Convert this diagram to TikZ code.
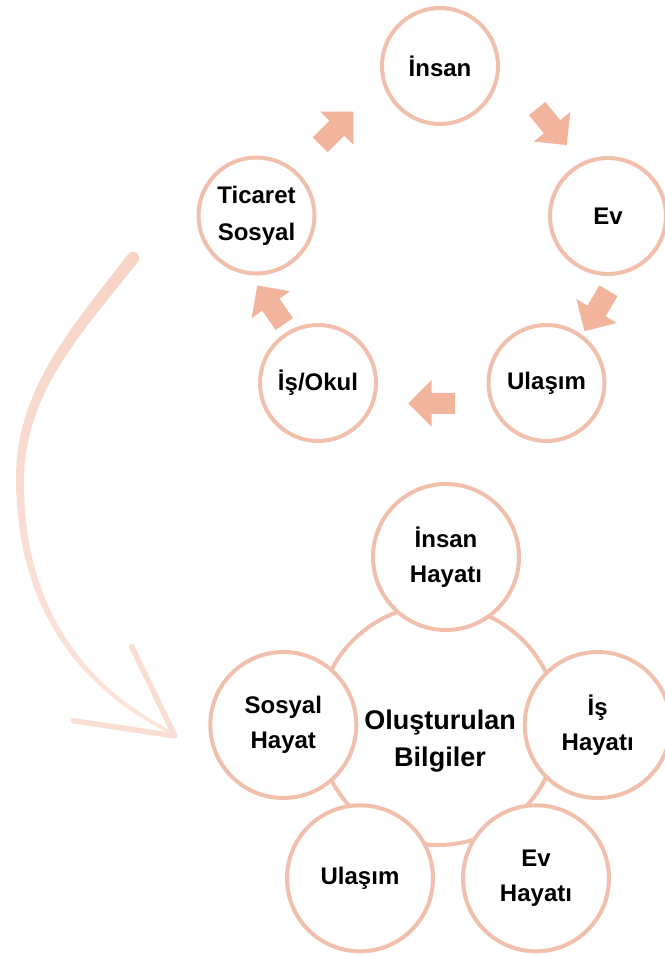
\documentclass[tikz,border=0pt]{standalone}
\usepackage{fontspec}
\setmainfont{Liberation Sans}
\definecolor{ringcol}{RGB}{240,192,172}
\definecolor{arrowfill}{RGB}{242,180,157}
\definecolor{bigstart}{RGB}{247,211,197}
\definecolor{bigend}{RGB}{251,229,220}
\definecolor{bighead}{RGB}{249,222,211}
\begin{document}
\begin{tikzpicture}[x=1pt,y=-1pt,
  ring/.style={circle, draw=ringcol, line width=4pt, fill=white, align=center,
    inner sep=0pt, font=\bfseries\fontsize{24}{37}\selectfont},
  topring/.style={ring, minimum size=116pt},
  lowring/.style={ring, minimum size=146pt, font=\bfseries\fontsize{24}{35}\selectfont},
  hub/.style={circle, draw=ringcol, line width=4pt, minimum size=240pt, inner sep=0pt},
  hubtext/.style={align=center, inner sep=0pt, font=\bfseries\fontsize{27}{37}\selectfont},
  blockarrow/.pic={\fill[arrowfill] (-23.5,-10.5) -- (0,-10.5) -- (0,-23.5) -- (23.5,0)
    -- (0,23.5) -- (0,10.5) -- (-23.5,10.5) -- cycle;}
]
\useasboundingbox (0,0) rectangle (664,957);

% ---- cycle of daily life ----
\node[topring] (insan)   at (440,66)      {İnsan};
\node[topring] (ev)      at (608,216)     {Ev};
\node[topring] (ticaret) at (256.5,215.5) {Ticaret\\Sosyal};
\node[topring] (isokul)  at (318,383)     {İş/Okul};
\node[topring] (ulasim)  at (546.5,383)   {Ulaşım};

% block arrows between the cycle steps
\pic[rotate=45]     at (336.8,128.2) {blockarrow};
\pic[rotate=-51]    at (552,126.8)   {blockarrow};
\pic[rotate=-120.6] at (596.5,311)   {blockarrow};
\pic[rotate=180]    at (431.7,403.3) {blockarrow};
\pic[rotate=125]    at (270.8,304.7) {blockarrow};

% ---- large sweeping arrow, tapering and fading ----
\coordinate (bs)   at (133,258);
\coordinate (bm)   at (20,480);
\coordinate (be)   at (172,733);
\coordinate (btip) at (175,736);
\coordinate (hl)   at (131.7,646.7);
\coordinate (hr)   at (73.3,720.7);
% sample points along the two halves of the sweep
\path (bs) .. controls (78,329) and (20,390) .. (bm)
  \foreach \i [evaluate=\i as \p using \i/30] in {0,...,30} { coordinate[pos=\p] (k\i) };
\path (bm) .. controls (20,600) and (74,683.5) .. (be)
  \foreach \i [evaluate=\i as \p using \i/30, evaluate=\i as \n using int(\i+30)] in {0,...,30} { coordinate[pos=\p] (k\n) };
\foreach \i in {1,...,60} {
  \pgfmathtruncatemacro\prevk{\i-1}
  \pgfmathsetmacro\segw{12.5-9*\i/60}
  \pgfmathtruncatemacro\segmix{100*\i/60}
  \draw[line width=\segw pt, draw=bigend!\segmix!bigstart, line cap=round] (k\prevk) -- (k\i);
}
\draw[bighead, line width=5.5pt, line cap=round, line join=round] (hl) -- (btip) -- (hr);

% ---- knowledge produced ----
\node[hub] (hub) at (438,725) {};
\node[hubtext] (hubtxt) at (440,741) {Oluşturulan\\Bilgiler};
\node[lowring] (insanh)  at (446,557)     {İnsan\\Hayatı};
\node[lowring] (sosyalh) at (283.3,725)   {Sosyal\\Hayat};
\node[lowring] (ish)     at (597.7,725)   {İş\\Hayatı};
\node[lowring] (ulasimh) at (360,878.3)   {Ulaşım};
\node[lowring] (evh)     at (536,878.3)   {Ev\\Hayatı};
\end{tikzpicture}
\end{document}
